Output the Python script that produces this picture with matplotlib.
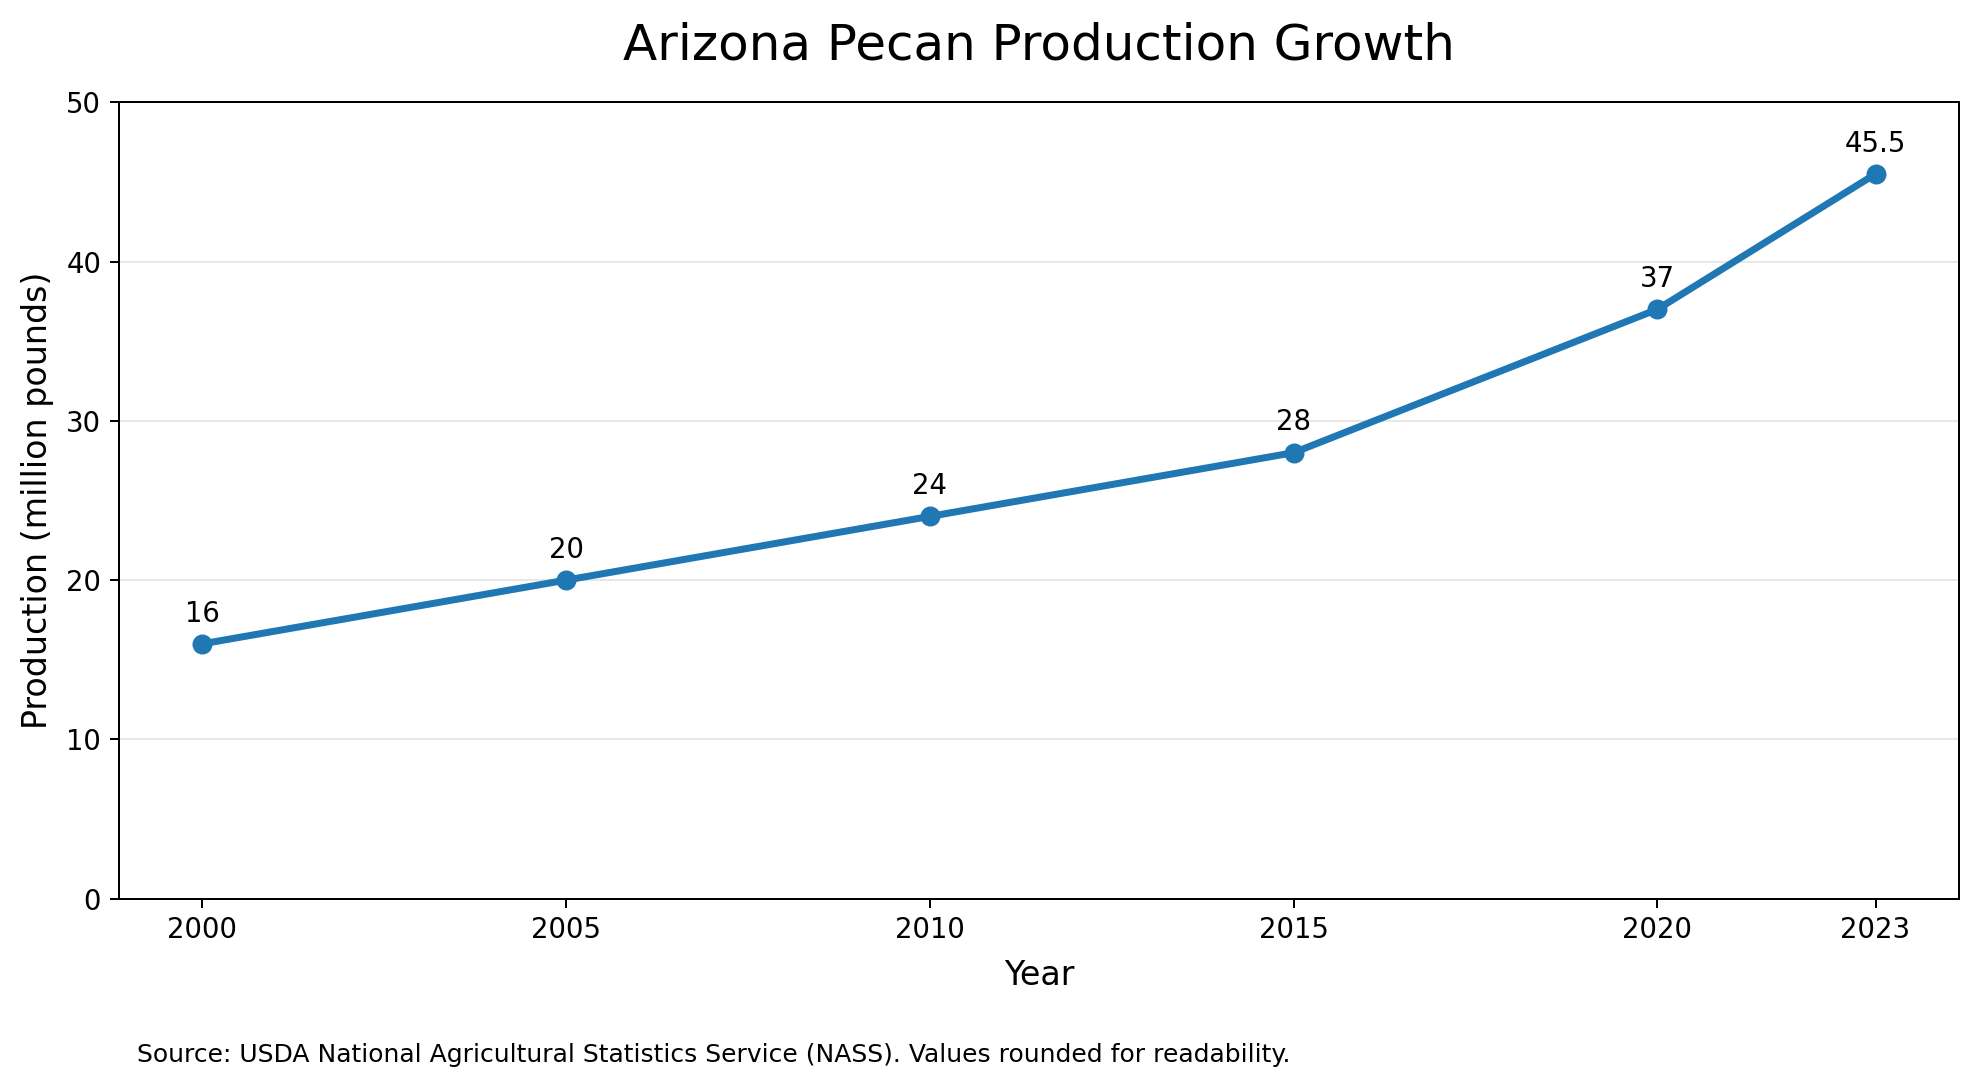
import numpy as np
import matplotlib.pyplot as plt

years = [2000, 2005, 2010, 2015, 2020, 2023]
production = [16, 20, 24, 28, 37, 45.5]
labels = ['16', '20', '24', '28', '37', '45.5']

fig, ax = plt.subplots(figsize=(1979/180, 1088/180), dpi=180)
fig.subplots_adjust(left=0.060, right=0.990, top=0.906, bottom=0.174)

ax.plot(years, production, color='#1f77b4', linewidth=2.8, marker='o', markersize=7)
for x, y, t in zip(years, production, labels):
    ax.annotate(t, (x, y), textcoords='offset points', xytext=(0, 6.5),
                ha='center', va='bottom', fontsize=11)

ax.set_ylim(0, 50)
ax.set_xticks(years)
ax.tick_params(labelsize=11)
ax.grid(axis='y', color='#dddddd', alpha=0.7, linewidth=0.8)
ax.set_axisbelow(True)
ax.set_title('Arizona Pecan Production Growth', fontsize=20, pad=17)
ax.set_xlabel('Year', fontsize=13.3, labelpad=6)
ax.set_ylabel('Production (million pounds)', fontsize=13.3, labelpad=5)
fig.text(0.069, 0.030, 'Source: USDA National Agricultural Statistics Service (NASS). Values rounded for readability.',
         fontsize=10, ha='left', va='center')

fig.savefig('out.png', dpi=180)
